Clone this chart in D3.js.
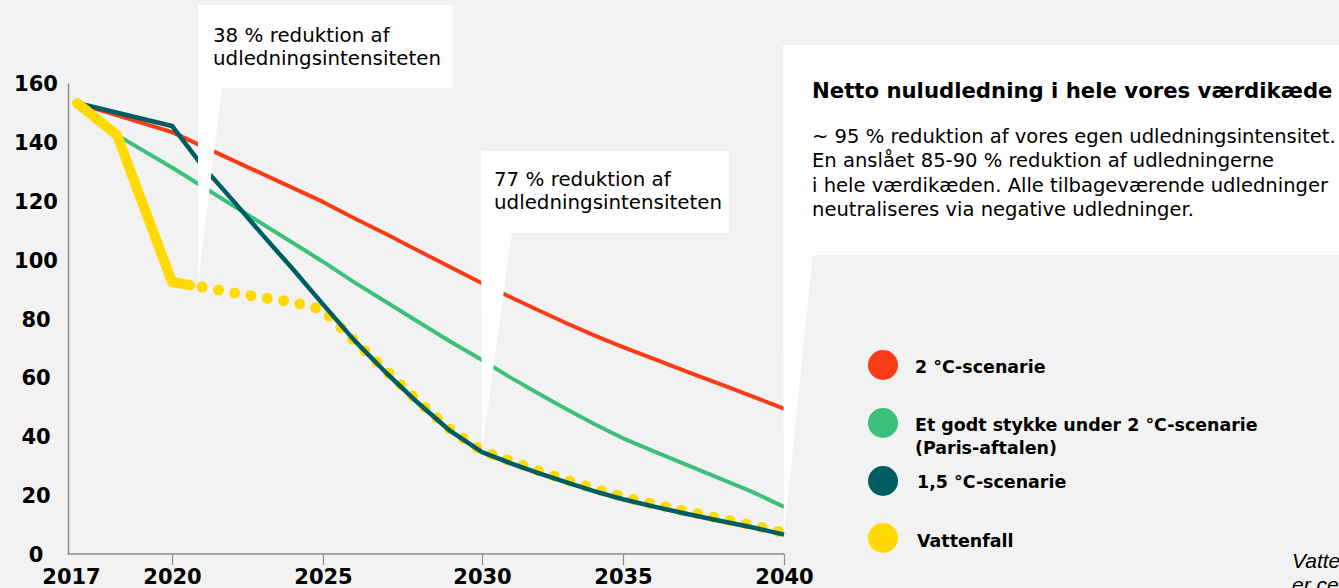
<!DOCTYPE html>
<html>
<head>
<meta charset="utf-8">
<script src="https://cdn.jsdelivr.net/npm/d3@7"></script>
<style>
  html, body { margin: 0; padding: 0; background: #F2F2F2; }
  svg { display: block; }
  text { font-family: "DejaVu Sans", sans-serif; fill: #000; }
</style>
</head>
<body>
<svg id="chart" width="1339" height="588"></svg>
<script>
// ---------------- DATA ----------------
const xTickYears = [2017, 2020, 2025, 2030, 2035, 2040];
const yTicks = [0, 20, 40, 60, 80, 100, 120, 140, 160];

const redYears   = [2017, 2020, 2025, 2026, 2027, 2028, 2029, 2030, 2031, 2032, 2033, 2034, 2035, 2036, 2037, 2038, 2039, 2040];
const redValues  = [153.2, 143.3, 119.6, 114, 108.6, 103, 97.5, 92, 87.3, 82.8, 78.4, 74.2, 70.3, 66.1, 61.9, 57.8, 53.6, 49.4];

const greenYears  = [2017, 2018, 2020, 2025, 2026, 2027, 2028, 2029, 2030, 2031, 2032, 2033, 2034, 2035, 2036, 2037, 2038, 2039, 2040];
const greenValues = [153.2, 142.3, 131.3, 99.3, 92.2, 85.5, 78.8, 72.2, 65.9, 60, 54.5, 49.2, 44.1, 39.3, 34.7, 30.2, 25.7, 21.2, 16];

const tealYears  = [2017, 2020, 2021, 2022, 2023, 2024, 2025, 2026, 2027, 2028, 2029, 2030, 2031, 2032, 2033, 2034, 2035, 2036, 2037, 2038, 2039, 2040];
const tealValues = [153.2, 145.4, 131.9, 120.3, 108.4, 96.8, 84.8, 72.4, 61.4, 51.2, 41.8, 34.6, 30.9, 27.5, 24.3, 21.3, 18.6, 16, 13.6, 11.3, 9.1, 6.6];

const vfActualYears  = [2017, 2018, 2020, 2020.6];
const vfActualValues = [153.2, 142.3, 92.4, 91.3];

const vfTargetYears  = [2021, 2022, 2023, 2024, 2025, 2026, 2027, 2028, 2029, 2030, 2031, 2032, 2033, 2034, 2035, 2036, 2037, 2038, 2039, 2040];
const vfTargetValues = [90.7, 88.8, 87.1, 85.6, 83, 72.2, 62.1, 51.8, 42.3, 35, 31.6, 28.3, 25.1, 22.1, 19.4, 16.8, 14.4, 12.1, 9.8, 7.2];

const legendLabels = [["2 °C-scenarie"], ["Et godt stykke under 2 °C-scenarie", "(Paris-aftalen)"], ["1,5 °C-scenarie"], ["Vattenfall"]];
const callout1Lines = ["38 % reduktion af", "udledningsintensiteten"];
const callout2Lines = ["77 % reduktion af", "udledningsintensiteten"];
const callout3Title = "Netto nuludledning i hele vores værdikæde";
const callout3Lines = ["~ 95 % reduktion af vores egen udledningsintensitet.",
  "En anslået 85-90 % reduktion af udledningerne",
  "i hele værdikæden. Alle tilbageværende udledninger",
  "neutraliseres via negative udledninger."];
const footLines = ["Vattenfall", "er ce"];

// ---------------- STYLE ----------------
const C = { red: "#F93B18", green: "#3DC07C", teal: "#005C63", yellow: "#FFDA00", axis: "#8C8C8C" };

const svg = d3.select("#chart");

// scales (piecewise linear to follow the original's uneven year spacing)
const x = d3.scaleLinear()
  .domain([2017, 2018, 2020, 2025, 2030, 2035, 2040])
  .range([77, 117, 172, 323, 482, 623, 784]);
const y = d3.scaleLinear().domain([0, 160]).range([554, 83]);

function fit(sel, target) {
  const w = sel.node().getComputedTextLength();
  const fs = parseFloat(sel.attr("font-size"));
  return fs * target / w;
}

// ---------------- AXES ----------------
const yAxis = d3.axisLeft(y).tickValues(yTicks).tickSize(0).tickFormat(d3.format("d"));
const gy = svg.append("g").attr("transform", "translate(68,0)").call(yAxis);
gy.select(".domain").attr("stroke", C.axis).attr("stroke-width", 1.5);
gy.selectAll(".tick text")
  .attr("x", -32).attr("dy", "0.36em")
  .attr("text-anchor", "middle")
  .style("font-family", "DejaVu Sans").style("font-weight", "bold").style("font-size", "21px").attr("fill", "#000");

const xAxis = d3.axisBottom(x).tickValues(xTickYears).tickSize(11).tickFormat(d3.format("d"));
const gx = svg.append("g").attr("transform", "translate(0,554)").call(xAxis);
gx.select(".domain").remove();
gx.append("line").attr("x1", 68).attr("x2", x(2040)).attr("y1", 0).attr("y2", 0)
  .attr("stroke", C.axis).attr("stroke-width", 1.5);
gx.selectAll(".tick line").attr("stroke", C.axis).attr("stroke-width", 1.2)
  .attr("display", d => d === 2017 ? "none" : null);
gx.selectAll(".tick text")
  .attr("y", 30).attr("dy", 0)
  .attr("dx", d => d === 2017 ? -6 : 0)
  .style("font-family", "DejaVu Sans").style("font-weight", "bold").style("font-size", "21px").attr("fill", "#000");

// ---------------- LINES ----------------
const line = d3.line().x(d => x(d[0])).y(d => y(d[1])).curve(d3.curveLinear);
const zip = (a, b) => a.map((v, i) => [v, b[i]]);

svg.append("path").datum(zip(redYears, redValues)).attr("d", line)
  .attr("fill", "none").attr("stroke", C.red).attr("stroke-width", 4).attr("stroke-linejoin", "round");
svg.append("path").datum(zip(greenYears, greenValues)).attr("d", line)
  .attr("fill", "none").attr("stroke", C.green).attr("stroke-width", 4).attr("stroke-linejoin", "round");
svg.append("path").datum(zip(vfTargetYears, vfTargetValues)).attr("d", line)
  .attr("fill", "none").attr("stroke", C.yellow).attr("stroke-width", 11)
  .attr("stroke-linecap", "round").attr("stroke-dasharray", "0 16.5");
svg.append("path").datum(zip(tealYears, tealValues)).attr("d", line)
  .attr("fill", "none").attr("stroke", C.teal).attr("stroke-width", 4.5).attr("stroke-linejoin", "round");
svg.append("path").datum(zip(vfActualYears, vfActualValues)).attr("d", line)
  .attr("fill", "none").attr("stroke", C.yellow).attr("stroke-width", 10)
  .attr("stroke-linecap", "round").attr("stroke-linejoin", "round");

// ---------------- CALLOUTS ----------------
function callout(box, tip, tailW) {
  const g = svg.append("g");
  g.append("rect").attr("x", box[0]).attr("y", box[1]).attr("width", box[2] - box[0]).attr("height", box[3] - box[1]).attr("fill", "#fff");
  g.append("path").attr("d", `M${box[0]},${box[3] - 1}L${box[0] + tailW},${box[3] - 1}L${tip[0]},${tip[1]}Z`).attr("fill", "#fff");
  return g;
}
// callout 1
{
  const g = callout([198, 5, 453, 88], [198, y(92)], 24);
  const t = callout1Lines.map((s, i) => g.append("text").attr("x", 213).attr("y", 42 + i * 23).attr("font-size", 20).text(s));
  const fs = fit(t[1], 228);
  t.forEach(s => s.attr("font-size", fs));
}
// callout 2
{
  const g = callout([481, 151, 729, 233], [x(2030), y(35)], 31);
  const t = callout2Lines.map((s, i) => g.append("text").attr("x", 494).attr("y", 186 + i * 23).attr("font-size", 20).text(s));
  const fs = fit(t[1], 228);
  t.forEach(s => s.attr("font-size", fs));
}
// callout 3
{
  const g = callout([783, 45, 1345, 255], [x(2040), y(6.5)], 30);
  const tt = g.append("text").attr("x", 812).attr("y", 98).attr("font-size", 20).attr("font-weight", "bold").text(callout3Title);
  tt.attr("font-size", fit(tt, 521));
  const t = callout3Lines.map((s, i) => g.append("text").attr("x", 812).attr("y", 143 + i * 24.3).attr("font-size", 18).text(s));
  const fs = fit(t[0], 524);
  t.forEach(s => s.attr("font-size", fs));
}

// ---------------- LEGEND ----------------
const legendColors = [C.red, C.green, C.teal, C.yellow];
const legendCy = [365, 423, 481, 538];
const legendTx = [915, 915, 917, 917];
const legendBase = [[373], [431, 454], [488], [547]];
const lg = svg.append("g");
lg.selectAll("circle").data(legendColors).join("circle")
  .attr("cx", 883).attr("cy", (d, i) => legendCy[i]).attr("r", 15).attr("fill", d => d);
const ltexts = [];
legendLabels.forEach((lines, i) => lines.forEach((s, j) => {
  ltexts.push(lg.append("text").attr("x", legendTx[i]).attr("y", legendBase[i][j])
    .attr("font-size", 17).attr("font-weight", "bold").text(s));
}));
{
  const fs = fit(ltexts[1], 343);
  ltexts.forEach(s => s.attr("font-size", fs));
}

// ---------------- FOOTNOTE (cut off at right edge, as in the original) ----------------
footLines.forEach((s, i) => svg.append("text").attr("x", 1292).attr("y", 568 + i * 24)
  .style("font-family", "Liberation Sans").style("font-style", "italic").attr("font-size", 21).attr("fill", "#222").text(s));
</script>
</body>
</html>
